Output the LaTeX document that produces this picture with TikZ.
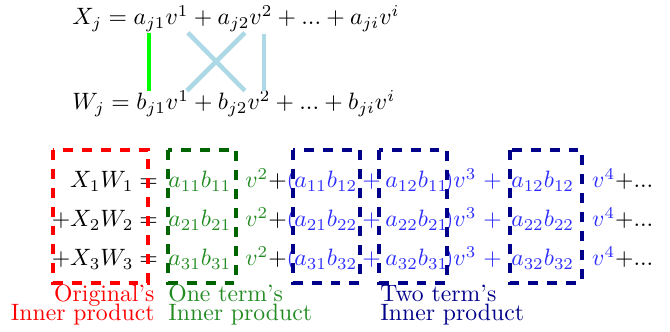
\documentclass[tikz,border=0pt]{standalone}
\usepackage{amsmath, amssymb}
\usepackage{tikz}
\usetikzlibrary{calc, positioning}
\usepackage{xcolor}
\definecolor{lineblue}{RGB}{173,216,230}
\definecolor{termgreen}{RGB}{34,139,34}
\definecolor{boxgreen}{RGB}{0,100,0}
\definecolor{termblue}{RGB}{45,45,255}
\definecolor{boxblue}{RGB}{0,0,139}

\begin{document}
\begin{tikzpicture}[
  term/.style={inner sep=0pt, anchor=base west},
  dashbox/.style={line width=1.7pt, dash pattern=on 4.2pt off 3.8pt},
  link/.style={line width=1.9pt},
  caption/.style={inner sep=0pt, align=left}
]
\useasboundingbox (0,0) rectangle (9.94,4.92);

% X_j and W_j in the basis v
\node[term] (xj) at (1.068,4.553) {$X_j = a_{j1}v^1 + a_{j2}v^2 + ... + a_{ji}v^i$};
\node[term] (wj) at (1.068,3.292) {$W_j = b_{j1}v^1 + b_{j2}v^2 + ... + b_{ji}v^i$};

\coordinate (a1) at (2.210,4.434);
\coordinate (b1) at (2.210,3.574);
\coordinate (a2) at (3.633,4.434);
\coordinate (b2) at (3.633,3.574);
\coordinate (a1x) at (2.788,4.434);
\coordinate (b1x) at (2.773,3.574);
\coordinate (ai) at (3.915,4.419);
\coordinate (bi) at (3.915,3.574);

\draw[link, green] (a1) -- (b1);
\draw[link, lineblue] (a1x) -- (b2);
\draw[link, lineblue] (a2) -- (b1x);
\draw[link, lineblue] (ai) -- (bi);

% Rows of the sum
\foreach \i/\y in {1/2.136, 2/1.557, 3/0.979} {
  \node[term, anchor=base east] (lhs\i) at (1.987,\y) {$\ifnum\i>1 +\fi X_\i W_\i$};
  \node[term] (eq\i) at (2.061,\y) {$=$};
  \node[term, text=termgreen] (one\i) at (2.491,\y) {$a_{\i1}b_{\i1}$};
  \node[term] (open\i) at (3.633,\y) {$\textcolor{termgreen}{v^2}{+}\textcolor{termblue}{(}$};
  \node[term, text=termblue] (twoa\i) at (4.360,\y) {$a_{\i1}b_{\i2}$};
  \node[term, text=termblue] (plus\i) at (5.368,\y) {$+$};
  \node[term, text=termblue] (twob\i) at (5.710,\y) {$a_{\i2}b_{\i1}$};
  \node[term, text=termblue] (close\i) at (6.584,\y) {$)v^3$};
  \node[term, text=termblue] (plusb\i) at (7.163,\y) {$+$};
  \node[term, text=termblue] (sq\i) at (7.578,\y) {$a_{\i2}b_{\i2}$};
  \node[term] (tail\i) at (8.779,\y) {$\textcolor{termblue}{v^4}{+}...$};
}

% Boxes
\draw[dashbox, red] (0.786,2.699) rectangle (2.195,0.727);
\draw[dashbox, boxgreen] (2.491,2.699) rectangle (3.500,0.727);
\draw[dashbox, boxblue] (4.345,2.699) rectangle (5.339,0.727);
\draw[dashbox, boxblue] (5.621,2.699) rectangle (6.629,0.727);
\draw[dashbox, boxblue] (7.563,2.699) rectangle (8.631,0.727);

% Captions
\node[caption, anchor=base east, align=right, text=red] (orig) at (2.299,0.163) {Original's\\[-3.8pt]Inner product};
\node[caption, anchor=base west, text=termgreen] (oneterm) at (2.491,0.163) {One term's\\[-3.8pt]Inner product};
\node[caption, anchor=base west, text=boxblue] (twoterm) at (5.636,0.163) {Two term's\\[-3.8pt]Inner product};
\end{tikzpicture}
\end{document}
